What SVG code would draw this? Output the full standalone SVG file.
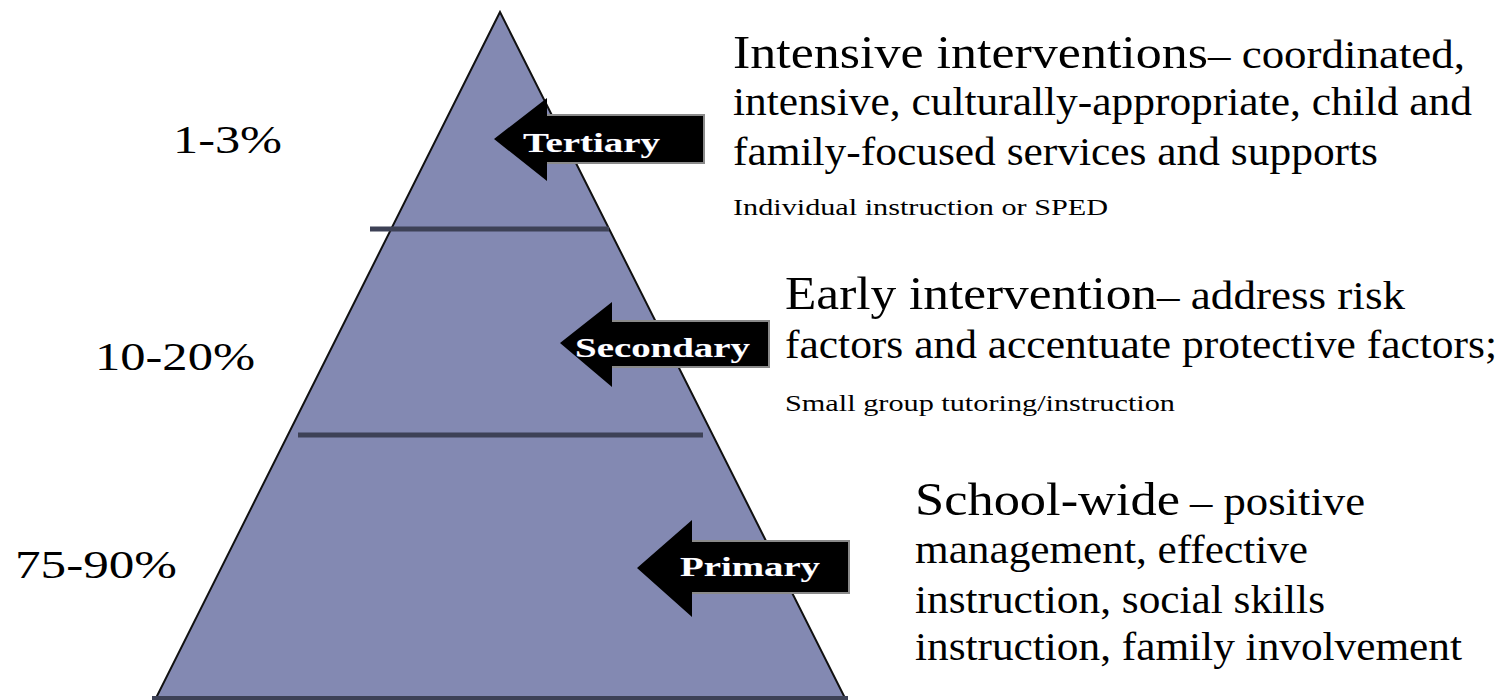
<svg xmlns="http://www.w3.org/2000/svg" width="1503" height="700" viewBox="0 0 1503 700">
  <defs>
    <style>
      .serif { font-family: "Times New Roman", "Liberation Serif", Tinos, serif; fill: #000; }
      .pct { font-size: 41px; }
      .head { font-size: 46px; }
      .body { font-size: 40px; }
      .note { font-size: 24px; }
      .tag { font-family: "Times New Roman", "Liberation Serif", Tinos, serif; font-weight: bold; font-size: 27px; fill: #fff; stroke: #1a1a3a; stroke-width: 0.6px; paint-order: stroke; }
      .arrow { fill: #000; }
      .shadow { fill: #8a8a8a; }
      .divider { stroke: #3d4156; stroke-width: 5; }
    </style>
  </defs>

  <rect width="1503" height="700" fill="#fff"/>

  <!-- pyramid body -->
  <g id="pyramid">
    <polygon points="500,12 155,700 846,700" fill="#8389b2" stroke="#111" stroke-width="2" stroke-linejoin="miter"/>
    <line x1="152" y1="698" x2="848" y2="698" stroke="#3d4156" stroke-width="4"/>
  </g>

  <!-- tier dividers -->
  <g id="connectors">
    <line class="divider" x1="370" y1="229" x2="609" y2="229"/>
    <line class="divider" x1="298" y1="435" x2="703" y2="435"/>
  </g>

  <!-- tier arrows: gray backing gives the shaft its soft edge -->
  <g id="tertiary-arrow">
    <polygon class="shadow" points="547,114 705,114 705,164 547,164"/>
    <polygon class="arrow" points="494,139 547,98 547,116 703,116 703,162 547,162 547,181"/>
    <text class="tag" x="523" y="152" textLength="137" lengthAdjust="spacingAndGlyphs">Tertiary</text>
  </g>
  <g id="secondary-arrow">
    <polygon class="shadow" points="612,320 770,320 770,368 612,368"/>
    <polygon class="arrow" points="560,343 612,302 612,322 768,322 768,366 612,366 612,387"/>
    <text class="tag" x="575" y="357" textLength="175" lengthAdjust="spacingAndGlyphs">Secondary</text>
  </g>
  <g id="primary-arrow">
    <polygon class="shadow" points="692,540 850,540 850,594 692,594"/>
    <polygon class="arrow" points="637,568 692,520 692,542 848,542 848,592 692,592 692,617"/>
    <text class="tag" x="680" y="576" textLength="140" lengthAdjust="spacingAndGlyphs">Primary</text>
  </g>

  <!-- population shares -->
  <g id="shares">
    <text class="serif pct" x="173" y="153" textLength="109" lengthAdjust="spacingAndGlyphs">1-3%</text>
    <text class="serif pct" x="95" y="370" textLength="160" lengthAdjust="spacingAndGlyphs">10-20%</text>
    <text class="serif pct" x="15" y="578" textLength="162" lengthAdjust="spacingAndGlyphs">75-90%</text>
  </g>

  <!-- tertiary description -->
  <g id="tertiary-text">
    <text class="serif head" x="733" y="68" textLength="475" lengthAdjust="spacingAndGlyphs">Intensive interventions</text>
    <text class="serif body" x="1208" y="68" textLength="257" lengthAdjust="spacingAndGlyphs">– coordinated,</text>
    <text class="serif body" x="733" y="115" textLength="739" lengthAdjust="spacingAndGlyphs">intensive, culturally-appropriate, child and</text>
    <text class="serif body" x="733" y="165" textLength="645" lengthAdjust="spacingAndGlyphs">family-focused services and supports</text>
    <text class="serif note" x="733" y="215" textLength="375" lengthAdjust="spacingAndGlyphs">Individual instruction or SPED</text>
  </g>

  <!-- secondary description -->
  <g id="secondary-text">
    <text class="serif head" x="785" y="309" textLength="372" lengthAdjust="spacingAndGlyphs">Early intervention</text>
    <text class="serif body" x="1157" y="309" textLength="248" lengthAdjust="spacingAndGlyphs">– address risk</text>
    <text class="serif body" x="785" y="358" textLength="712" lengthAdjust="spacingAndGlyphs">factors and accentuate protective factors;</text>
    <text class="serif note" x="785" y="411" textLength="390" lengthAdjust="spacingAndGlyphs">Small group tutoring/instruction</text>
  </g>

  <!-- primary description -->
  <g id="primary-text">
    <text class="serif head" x="915" y="515" textLength="265" lengthAdjust="spacingAndGlyphs">School-wide</text>
    <text class="serif body" x="1190" y="515" textLength="175" lengthAdjust="spacingAndGlyphs">– positive</text>
    <text class="serif body" x="915" y="563" textLength="393" lengthAdjust="spacingAndGlyphs">management, effective</text>
    <text class="serif body" x="915" y="613" textLength="410" lengthAdjust="spacingAndGlyphs">instruction, social skills</text>
    <text class="serif body" x="915" y="660" textLength="547" lengthAdjust="spacingAndGlyphs">instruction, family involvement</text>
  </g>
</svg>
